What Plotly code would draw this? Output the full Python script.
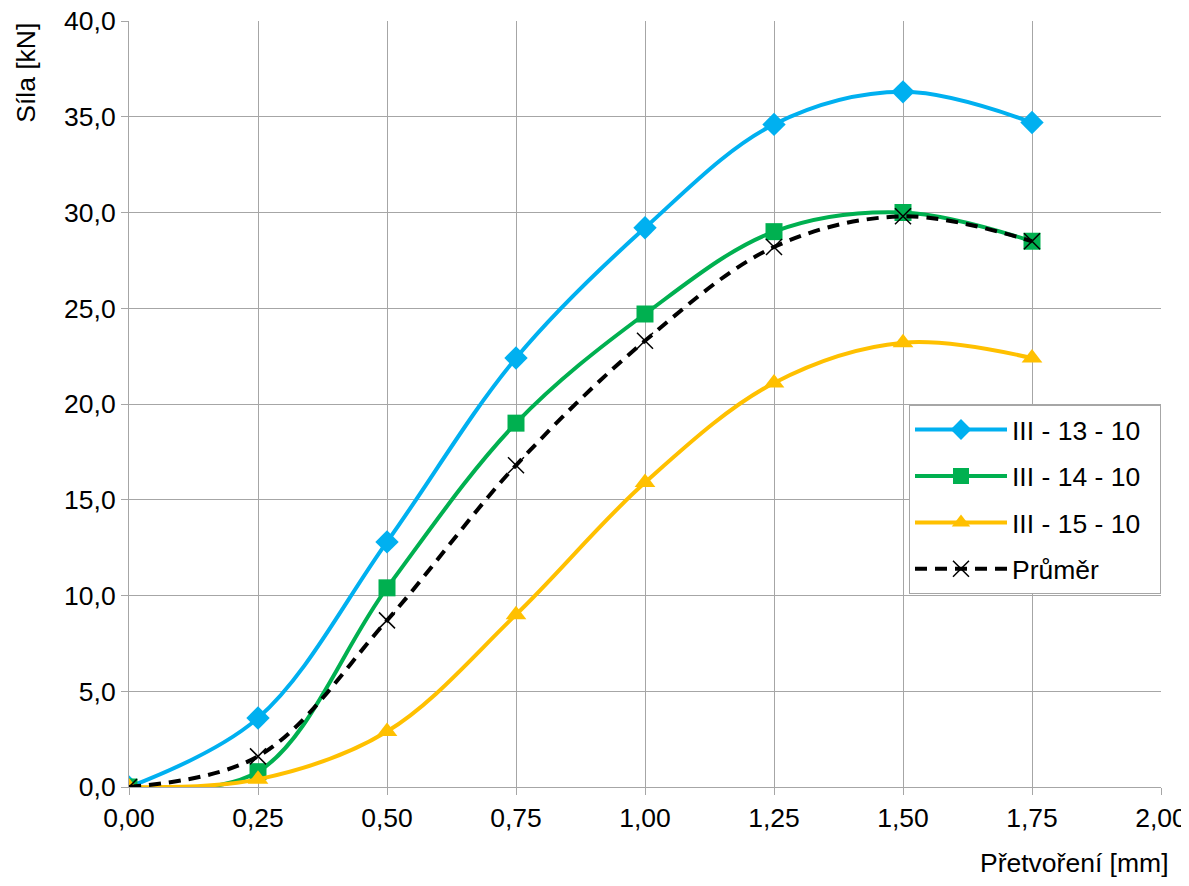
import plotly.graph_objects as go

x_vals = [0.00, 0.25, 0.50, 0.75, 1.00, 1.25, 1.50, 1.75]
s13 = [0.0, 3.6, 12.8, 22.4, 29.2, 34.6, 36.3, 34.7]
s14 = [0.0, 0.8, 10.4, 19.0, 24.7, 29.0, 30.0, 28.5]
s15 = [0.0, 0.4, 2.9, 9.0, 15.9, 21.1, 23.2, 22.4]
avg = [0.0, 1.6, 8.7, 16.8, 23.3, 28.2, 29.8, 28.5]

names = ["III - 13 - 10", "III - 14 - 10", "III - 15 - 10", "Průměr"]
FONT = "Liberation Sans, Arial, sans-serif"
FS = 26.5
PAD = "\u00a0\u00a0"

fig = go.Figure()
fig.add_trace(go.Scatter(x=x_vals, y=s13, name=names[0] + PAD, legendgroup="a",
                         mode="lines+markers", line=dict(color="#00B0F0", width=4, shape="spline", smoothing=1),
                         marker=dict(symbol="diamond", size=18, color="#00B0F0")))
fig.add_trace(go.Scatter(x=x_vals, y=s14, name=names[1] + PAD, legendgroup="b",
                         mode="lines+markers", line=dict(color="#00B050", width=4, shape="spline", smoothing=1),
                         marker=dict(symbol="square", size=17, color="#00B050")))
fig.add_trace(go.Scatter(x=x_vals, y=s15, name=names[2] + PAD, legendgroup="c",
                         mode="lines+markers", line=dict(color="#FFC000", width=4, shape="spline", smoothing=1),
                         marker=dict(symbol="triangle-up", size=18, color="#FFC000")))
fig.add_trace(go.Scatter(x=x_vals, y=avg, name=names[3], legendgroup="d",
                         mode="lines+markers", line=dict(color="#000000", width=4, dash="12px,8px", shape="spline", smoothing=1),
                         marker=dict(symbol="x-thin", size=16, color="#000000", line=dict(color="#000000", width=1.5))))

fig.update_layout(
    width=1181, height=870,
    margin=dict(l=121, r=28, t=13, b=91, autoexpand=False),
    paper_bgcolor="white", plot_bgcolor="white",
    separators=", ",
    font=dict(family=FONT, size=FS, color="#000000"),
    showlegend=True,
    legend=dict(x=1, xanchor="right", y=0.499, yanchor="top",
                bgcolor="white", bordercolor="#A6A6A6", borderwidth=1,
                traceorder="grouped", tracegroupgap=9, itemwidth=92,
                font=dict(family=FONT, size=FS, color="#000000")),
    xaxis=dict(range=[0, 2], tick0=0, dtick=0.25, tickformat=".2f", automargin=False,
               ticklabeloverflow="allow",
               showgrid=True, gridcolor="#A6A6A6", gridwidth=1,
               showline=True, linecolor="#A6A6A6", linewidth=1,
               ticks="outside", ticklen=7, tickcolor="#A6A6A6",
               zeroline=False, tickfont=dict(size=FS)),
    yaxis=dict(range=[0, 40], tick0=0, dtick=5, tickformat=".1f", automargin=False,
               ticklabeloverflow="allow",
               showgrid=True, gridcolor="#A6A6A6", gridwidth=1,
               showline=True, linecolor="#A6A6A6", linewidth=1,
               ticks="outside", ticklen=7, tickcolor="#A6A6A6",
               zeroline=False, tickfont=dict(size=FS)),
    annotations=[
        dict(text="Síla [kN]", xref="paper", yref="paper", x=-0.1, y=1.0,
             xanchor="center", yanchor="top", textangle=-90, showarrow=False,
             font=dict(family=FONT, size=FS, color="#000000")),
        dict(text="Přetvoření [mm]", xref="paper", yref="paper", x=1.0, y=0,
             xanchor="right", yanchor="top", yshift=-59, xshift=10, showarrow=False,
             font=dict(family=FONT, size=FS, color="#000000")),
    ],
)

fig.write_html("out.html", post_script="document.documentElement.style.overflow='hidden';")
